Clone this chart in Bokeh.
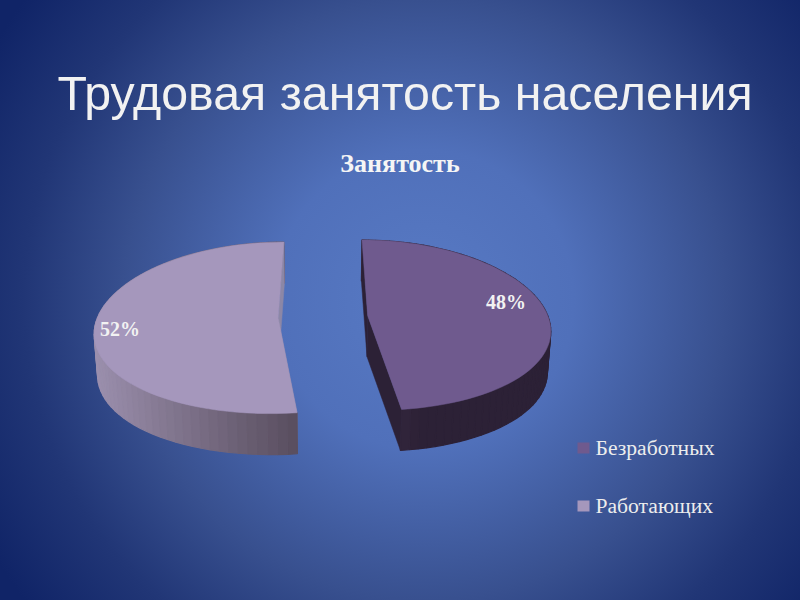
import numpy as np
from bokeh.plotting import figure
from bokeh.models import Range1d
from bokeh.embed import file_html
from bokeh.resources import INLINE
from bokeh.core.properties import value

title_text = "Трудовая занятость населения"
chart_title = "Занятость"
categories = ["Безработных", "Работающих"]
values = [48, 52]
top_colors = ["#6F5A8E", "#A597BC"]
wall_light = ["#3E3046", "#9C90AE"]
wall_dark = ["#2C2136", "#5A4F60"]
cut_colors = ["#2C2136", "#8C87A6"]

# projection of the tilted, exploded pie (units are reference pixels)
VCX, Y0, R, H, KX, KY, DEPTH, SHRINK, EXPLODE = 322.5, 316.5, 180.5, 84.4, 0.146, 0.111, 41.0, 0.985, 0.2485


def project(X, Y):
    return VCX + R * X / (1.0 + KX * Y), Y0 - H * Y / (1.0 + KY * Y)


def extrude(x, y):
    return VCX + (x - VCX) * SHRINK, y + DEPTH


def hex2rgb(c):
    return np.array([int(c[i:i + 2], 16) for i in (1, 3, 5)], dtype=float)


def mix(a, b, t):
    v = hex2rgb(a) * (1 - t) + hex2rgb(b) * t
    return "#%02x%02x%02x" % tuple(int(round(q)) for q in v)


p = figure(width=800, height=600, output_backend="svg", toolbar_location=None,
           x_range=Range1d(0, 800), y_range=Range1d(600, 0), min_border=0)
p.xaxis.visible = False
p.yaxis.visible = False
p.xgrid.visible = False
p.ygrid.visible = False
p.outline_line_color = None
p.background_fill_alpha = 0
p.border_fill_alpha = 0

total = sum(values)
start = 0.0
for i, v in enumerate(values):
    sweep = 2 * np.pi * v / total
    mid = start + sweep / 2
    ox, oy = EXPLODE * np.sin(mid), EXPLODE * np.cos(mid)
    th = np.linspace(start, start + sweep, 70)
    ax, ay = project(ox + np.sin(th), oy + np.cos(th))
    cx, cy = project(ox, oy)
    bx0, by0 = extrude(cx, cy)

    def cut(x1, y1):
        bx1, by1 = extrude(x1, y1)
        p.patch([cx, x1, bx1, bx0], [cy, y1, by1, by0], fill_color=cut_colors[i],
                line_color=cut_colors[i], line_width=0.5)

    ends = sorted([(ay[0], ax[0]), (ay[-1], ax[-1])])
    # front cut face first, then outer wall back to front, then back cut face
    cut(ends[1][1], ends[1][0])
    bx, by = extrude(ax, ay)
    for j in np.argsort(ay[:-1]):
        t = (ax[j] - ax.min()) / (ax.max() - ax.min())
        if i == 0:
            col = mix(wall_light[i], wall_dark[i], min(1.0, t * 3.0))
        else:
            col = mix(wall_light[i], wall_dark[i], t)
        p.patch([ax[j], ax[j + 1], bx[j + 1], bx[j]], [ay[j], ay[j + 1], by[j + 1], by[j]],
                fill_color=col, line_color=col, line_width=1.2)
    cut(ends[0][1], ends[0][0])

    # top face
    p.patch(np.r_[cx, ax], np.r_[cy, ay], fill_color=top_colors[i], line_color=top_colors[i], line_width=0.5)
    start += sweep

p.text([505.5], [301], text=["%d%%" % values[0]], text_color="#F2F2F2", text_font=value("Liberation Serif"),
       text_font_size="20px", text_font_style="bold", text_align="center", text_baseline="middle")
p.text([119.5], [328], text=["%d%%" % values[1]], text_color="#F2F2F2", text_font=value("Liberation Serif"),
       text_font_size="20px", text_font_style="bold", text_align="center", text_baseline="middle")

p.text([404.5], [92], text=[title_text], text_color="#F2F2F2", text_font=value("Liberation Sans"),
       text_font_size="48.3px", text_align="center", text_baseline="alphabetic")
p.text([399.5], [163], text=[chart_title], text_color="#F5F5F5", text_font=value("Liberation Serif"),
       text_font_size="26px", text_font_style="bold", text_align="center", text_baseline="middle")

legend_y = [447.5, 505.5]
p.rect([583, 583], legend_y, width=12, height=11, fill_color=[top_colors[0], top_colors[1]], line_color=None)
p.text([595, 595], legend_y, text=categories, text_color="#EDEDED", text_font=value("Liberation Serif"),
       text_font_size="21.6px", text_align="left", text_baseline="middle")

html = file_html(p, INLINE)
css = ("<style>html{height:100%;background:radial-gradient(circle 500px at 53% 50%,"
       "#587AC4 0%,#5070BA 30%,#38508F 60%,#213676 80%,#102467 100%) no-repeat;"
       "background-size:100% 100%;}body{background:transparent!important;}</style>")
html = html.replace("</head>", css + "</head>", 1)
open("out.html", "w").write(html)
